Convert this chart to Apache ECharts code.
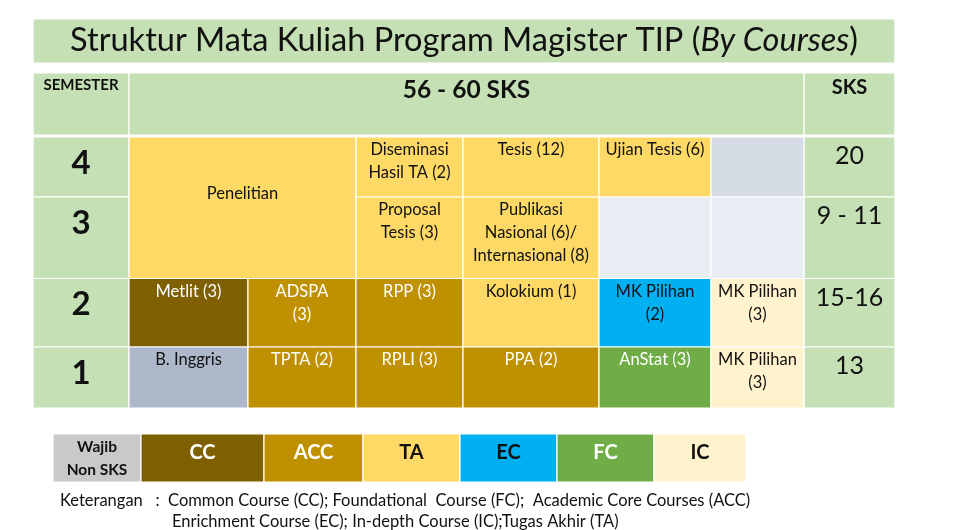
<!DOCTYPE html>
<html>
<head>
<meta charset="utf-8">
<script src="https://cdn.jsdelivr.net/npm/echarts@6/dist/echarts.min.js"></script>
<style>
  html, body { margin: 0; padding: 0; background: #fff; }
  #chart { width: 954px; height: 530px; }
</style>
</head>
<body>
<div id="chart"></div>
<script>
// ---- data ----
const titleMain = 'Struktur Mata Kuliah Program Magister TIP (';
const titleItalic = 'By Courses';
const headerLabels = ['SEMESTER', '56 - 60 SKS', 'SKS'];
const semesters = ['4', '3', '2', '1'];
const sksPerSemester = ['20', '9 - 11', '15-16', '13'];

// courses per semester, left to right; the matching *Types array picks the colour
const sem4Courses = ['Diseminasi\nHasil TA (2)', 'Tesis (12)', 'Ujian Tesis (6)', ''];
const sem4Types = ['TA', 'TA', 'TA', 'blank4'];
const sem3Courses = ['Proposal\nTesis (3)', 'Publikasi\nNasional (6)/\nInternasional (8)', '', ''];
const sem3Types = ['TA', 'TA', 'blank3', 'blank3'];
const sem2Courses = ['Metlit (3)', 'ADSPA\n(3)', 'RPP (3)', 'Kolokium (1)', 'MK Pilihan\n(2)', 'MK Pilihan\n(3)'];
const sem2Types = ['CC', 'ACC', 'ACC', 'TA', 'EC', 'IC'];
const sem1Courses = ['B. Inggris', 'TPTA (2)', 'RPLI (3)', 'PPA (2)', 'AnStat (3)', 'MK Pilihan\n(3)'];
const sem1Types = ['NS', 'ACC', 'ACC', 'ACC', 'FC', 'IC'];
// research block spans semesters 4 and 3 over the first two course columns
const researchLabel = 'Penelitian';

const legendTypes = ['LG', 'CC', 'ACC', 'TA', 'EC', 'FC', 'IC'];
const legendLabels = ['Wajib\nNon SKS', 'CC', 'ACC', 'TA', 'EC', 'FC', 'IC'];
const notes = [
  'Keterangan   :  Common Course (CC); Foundational  Course (FC);  Academic Core Courses (ACC)',
  'Enrichment Course (EC); In-depth Course (IC);Tugas Akhir (TA)'
];

// ---- look ----
const FONT = 'Lato, "Open Sans", sans-serif';
const GREEN = '#C5E0B4';
const fills = {
  TA: '#FFD966', CC: '#7F6000', ACC: '#BF9000', EC: '#00B0F0', FC: '#70AD47',
  IC: '#FFF2CC', NS: '#ADB9CA', LG: '#C9C9C9', blank4: '#D6DCE5', blank3: '#E9EDF4'
};
const whiteText = { CC: 1, ACC: 1, FC: 1 };

// table layout in table units (grid maps them to pixels)
const colEdges = [0, 96, 215, 323, 430, 566, 678, 771, 862];
const titleRow = [0, 44];
const headRow = [54, 116];
const semEdges = [118, 178, 259.5, 328, 389];
const legendEdges = [0, 88, 211, 310, 407, 504, 601, 693];

// ---- build cells ----
const cells = [];
function cell(x0, x1, y0, y1, fill, text, txt) {
  cells.push({ value: [x0, x1, y0, y1], fill, text, txt });
}
const courseTxt = (type) => ({ size: 16.5, bold: false, anchor: 'top', dy: 1.5, lh: 23,
  color: whiteText[type] ? '#fff' : '#111' });

cell(colEdges[0], colEdges[8], titleRow[0], titleRow[1], GREEN, 'TITLE',
  { size: 32.5, anchor: 'middle', dy: 22, color: '#111' });
cell(colEdges[0], colEdges[1], headRow[0], headRow[1], GREEN, headerLabels[0],
  { size: 15, bold: true, anchor: 'middle', dy: 12, color: '#111' });
cell(colEdges[1], colEdges[7], headRow[0], headRow[1], GREEN, headerLabels[1],
  { size: 24.5, bold: true, anchor: 'middle', dy: 17, color: '#111' });
cell(colEdges[7], colEdges[8], headRow[0], headRow[1], GREEN, headerLabels[2],
  { size: 20, bold: true, anchor: 'middle', dy: 15, color: '#111' });

semesters.forEach((s, r) => {
  cell(colEdges[0], colEdges[1], semEdges[r], semEdges[r + 1], GREEN, s,
    { size: 33, bold: true, anchor: 'middle', dy: 26, color: '#111' });
  cell(colEdges[7], colEdges[8], semEdges[r], semEdges[r + 1], GREEN, sksPerSemester[r],
    { size: 25, anchor: 'middle', dy: 19, color: '#111' });
});

cell(colEdges[1], colEdges[3], semEdges[0], semEdges[2], fills.TA, researchLabel,
  { size: 16.5, anchor: 'middle', dy: 57, color: '#111' });

[[sem4Courses, sem4Types, 2], [sem3Courses, sem3Types, 2],
 [sem2Courses, sem2Types, 0], [sem1Courses, sem1Types, 0]].forEach(([names, types, start], r) => {
  names.forEach((n, i) => {
    const c = start + i;
    cell(colEdges[1 + c], colEdges[2 + c], semEdges[r], semEdges[r + 1], fills[types[i]], n, courseTxt(types[i]));
  });
});

const legendCells = legendTypes.map((t, i) => ({
  value: [legendEdges[i], legendEdges[i + 1], 0, 48],
  fill: fills[t],
  text: legendLabels[i],
  txt: i === 0
    ? { size: 15.5, bold: true, anchor: 'middle', dy: 24, lh: 23, color: '#111' }
    : { size: 20, bold: true, anchor: 'middle', dy: 19, color: whiteText[t] ? '#fff' : '#111' }
}));

function renderCell(list) {
  return function (params, api) {
    const c = list[params.dataIndex];
    const p0 = api.coord([api.value(0), api.value(2)]);
    const p1 = api.coord([api.value(1), api.value(3)]);
    const t = c.txt;
    const textStyle = {
      x: (p0[0] + p1[0]) / 2,
      y: p0[1] + t.dy,
      align: 'center',
      verticalAlign: t.anchor,
      fill: t.color,
      fontFamily: FONT,
      fontSize: t.size,
      fontWeight: t.bold ? 'bold' : 'normal',
      lineHeight: t.lh || Math.round(t.size * 1.2)
    };
    if (c.text === 'TITLE') {
      textStyle.text = '{n|' + titleMain + '}{i|' + titleItalic + '}{n|)}';
      textStyle.rich = {
        n: { fontFamily: FONT, fontSize: t.size, fill: t.color },
        i: { fontFamily: FONT, fontSize: t.size, fontStyle: 'italic', fill: t.color }
      };
    } else {
      textStyle.text = c.text;
    }
    return {
      type: 'group',
      children: [
        { type: 'rect',
          shape: { x: p0[0], y: p0[1], width: p1[0] - p0[0], height: p1[1] - p0[1] },
          style: { fill: c.fill, stroke: '#fff', lineWidth: 1.2 } },
        { type: 'text', style: textStyle }
      ]
    };
  };
}

const chart = echarts.init(document.getElementById('chart'), null, { renderer: 'canvas' });
chart.setOption({
  animation: false,
  grid: [
    { left: 33, top: 19, width: 862, height: 389 },
    { left: 53, top: 434, width: 693, height: 48 }
  ],
  xAxis: [
    { gridIndex: 0, type: 'value', min: 0, max: 862, show: false },
    { gridIndex: 1, type: 'value', min: 0, max: 693, show: false }
  ],
  yAxis: [
    { gridIndex: 0, type: 'value', min: 0, max: 389, inverse: true, show: false },
    { gridIndex: 1, type: 'value', min: 0, max: 48, inverse: true, show: false }
  ],
  series: [
    { type: 'custom', xAxisIndex: 0, yAxisIndex: 0, renderItem: renderCell(cells),
      data: cells.map(c => c.value), silent: true },
    { type: 'custom', xAxisIndex: 1, yAxisIndex: 1, renderItem: renderCell(legendCells),
      data: legendCells.map(c => c.value), silent: true }
  ],
  graphic: [
    { type: 'text', left: 60, top: 492,
      style: { text: notes[0], fontFamily: FONT, fontSize: 16.5, fill: '#111' } },
    { type: 'text', left: 172, top: 513,
      style: { text: notes[1], fontFamily: FONT, fontSize: 16.5, fill: '#111' } }
  ]
});
</script>
</body>
</html>
